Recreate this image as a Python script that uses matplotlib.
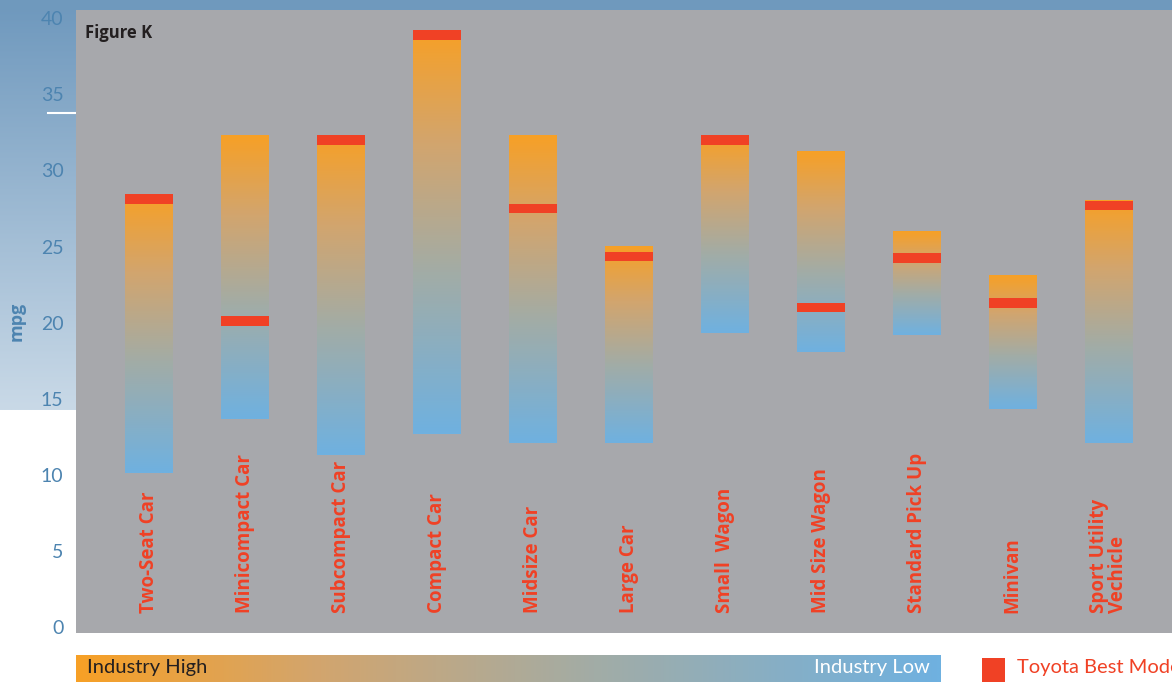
import matplotlib.pyplot as plt
import numpy as np
from matplotlib.colors import LinearSegmentedColormap
from matplotlib.patches import Rectangle

# values (mpg)
categories = ['Two-Seat Car', 'Minicompact Car', 'Subcompact Car', 'Compact Car',
              'Midsize Car', 'Large Car', 'Small  Wagon', 'Mid Size Wagon',
              'Standard Pick Up', 'Minivan', 'Sport Utility\nVechicle']
industry_high = [28.4, 32.3, 32.3, 39.2, 32.3, 25.0, 32.3, 31.3, 26.0, 23.1, 28.0]
industry_low = [10.1, 13.7, 11.3, 12.7, 12.1, 12.1, 19.3, 18.1, 19.2, 14.3, 12.1]
toyota_best = [28.1, 20.1, 32.0, 38.9, 27.5, 24.35, 32.0, 21.0, 24.25, 21.3, 27.7]
yticks = [0, 5, 10, 15, 20, 25, 30, 35, 40]

plt.rcParams['font.family'] = ['Lato', 'DejaVu Sans']
bold_font = ['Open Sans', 'DejaVu Sans']

W, H = 1172, 682
fig = plt.figure(figsize=(W / 100, H / 100), dpi=100)

# colour ramp: blue (low) -> grey -> orange (high)
cmap = LinearSegmentedColormap.from_list(
    'ind', [(0.0, '#6fb1e0'), (0.4, '#a2aca6'), (0.72, '#d2a56e'), (1.0, '#f7a026')])
red = '#f04125'
blue_txt = '#4d84b0'

# background layer in pixel coordinates
bg = fig.add_axes([0, 0, 1, 1], zorder=-1)
bg.axis('off')
strip = np.linspace(0, 1, 200).reshape(-1, 1)
strip_cmap = LinearSegmentedColormap.from_list('strip', ['#6e98bd', '#c9d9e7'])
bg.imshow(strip, cmap=strip_cmap, extent=(0, 76, 410, 0), aspect='auto')
bg.add_patch(Rectangle((0, 0), W, 10, color='#6f99bd', lw=0))
bg.plot([48, 76], [113, 113], color='white', lw=1.5)
bg.text(17, 321, 'mpg', rotation=90, ha='center', va='center', family=bold_font,
        color=blue_txt, fontsize=13, fontweight='bold')

# legend
legend_grad = np.linspace(1, 0, 300).reshape(1, -1)
bg.imshow(legend_grad, cmap=cmap, extent=(76, 941, 682, 655), aspect='auto')
bg.text(87, 668, 'Industry High', ha='left', va='center', color='#231f20', fontsize=14.5)
bg.text(930, 668, 'Industry Low', ha='right', va='center', color='white', fontsize=14.5)
bg.add_patch(Rectangle((982, 658), 23, 24, color=red, lw=0))
bg.text(1017, 668, 'Toyota Best Model', ha='left', va='center', color=red, fontsize=14.5)
bg.set_xlim(0, W)
bg.set_ylim(H, 0)

# main chart
ax = fig.add_axes([76 / W, (H - 633) / H, (W - 76) / W, 623 / H], zorder=1)
ax.set_facecolor('#a7a8ac')
x = np.arange(len(categories))
bw = 0.25
grad = np.linspace(1, 0, 256).reshape(-1, 1)
for i in x:
    ax.imshow(grad, cmap=cmap, extent=(i - bw, i + bw, industry_low[i], industry_high[i]),
              aspect='auto', zorder=2)
    ax.add_patch(Rectangle((i - bw, toyota_best[i] - 0.32), 2 * bw, 0.64,
                           color=red, lw=0, zorder=3))
    ax.text(i, 0.92, categories[i], rotation=90, ha='center', va='bottom',
            multialignment='left', color=red, fontsize=13.5, fontweight='bold',
            family=bold_font, linespacing=0.95, zorder=4)

ax.set_xlim(-0.76, 10.66)
ax.set_ylim(-0.39, 40.54)
ax.set_xticks([])
ax.set_yticks(yticks)
ax.tick_params(axis='y', length=0, pad=9, labelsize=14, labelcolor=blue_txt)
for s in ax.spines.values():
    s.set_visible(False)
ax.text(0.008, 0.978, 'Figure K', transform=ax.transAxes, ha='left', va='top',
        fontsize=12, fontweight='bold', family=bold_font, color='#231f20')

fig.savefig('out.png', dpi=100)
